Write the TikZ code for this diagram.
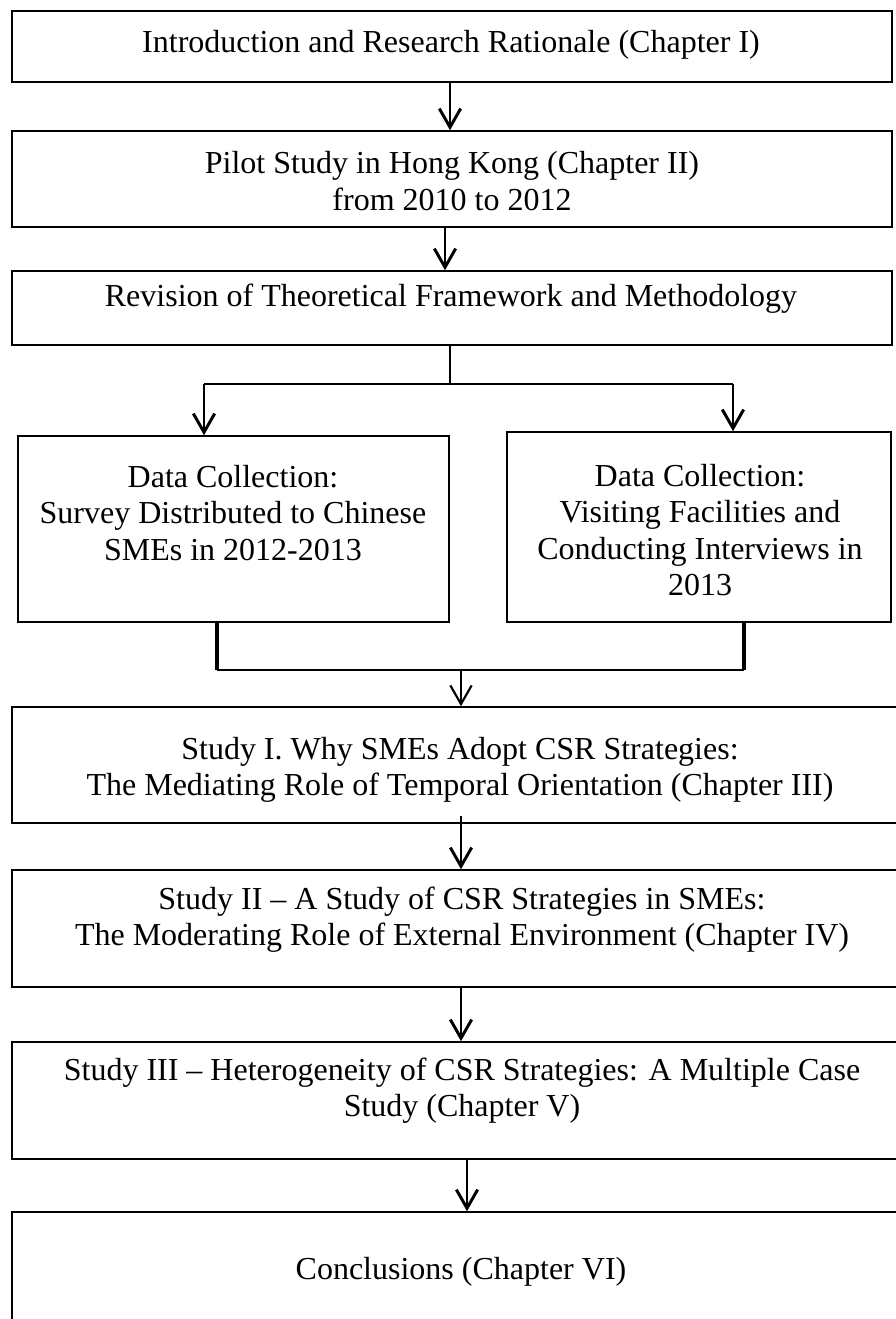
\documentclass[tikz,border=0pt]{standalone}
\usepackage{fontspec}
\setmainfont{Liberation Serif}
\usetikzlibrary{arrows.meta}
\newdimen\px \px=0.375pt
\begin{document}
\begin{tikzpicture}[x=\px,y=-\px,
    box/.style={draw,line width=0.6pt,inner sep=0pt},
    txt/.style={align=center,font=\fontsize{12}{13.6}\selectfont,inner sep=0pt},
    arr/.style={line width=1.1pt,-{Straight Barb[length=7pt,width=8pt,line width=1.1pt]}},
    thinarr/.style={line width=0.6pt,-{Straight Barb[length=7pt,width=8pt,line width=0.8pt]}}]
  \useasboundingbox (0,0) rectangle (896,1319);
  % boxes
  \node[box,minimum width=880\px,minimum height=71\px] (intro) at (452,46.5) {};
  \node[box,minimum width=880\px,minimum height=96\px] (pilot) at (452,179) {};
  \node[box,minimum width=880\px,minimum height=74\px] (revision) at (452,308) {};
  \node[box,minimum width=431\px,minimum height=186\px] (survey) at (233.5,529) {};
  \node[box,minimum width=384\px,minimum height=190\px] (visit) at (699,527) {};
  \node[box,minimum width=898\px,minimum height=116\px] (study1) at (461,765) {};
  \node[box,minimum width=898\px,minimum height=117\px] (study2) at (461,928.5) {};
  \node[box,minimum width=898\px,minimum height=117\px] (study3) at (461,1100.5) {};
  \node[box,minimum width=898\px,minimum height=120\px] (concl) at (461,1272) {};
  % texts
  \node[txt] (introtxt) at (451,45) {Introduction and Research Rationale (Chapter I)};
  \node[txt] (pilottxt) at (452,181) {Pilot Study in Hong Kong (Chapter II)\\ from 2010 to 2012};
  \node[txt] (revisiontxt) at (451,299) {Revision of Theoretical Framework and Methodology};
  \node[txt] (surveytxt) at (233,513) {Data Collection:\\ Survey Distributed to Chinese\\ SMEs in 2012-2013};
  \node[txt] (visittxt) at (700,530) {Data Collection:\\ Visiting Facilities and\\ Conducting Interviews in\\ 2013};
  \node[txt] (study1txt) at (460,770) {Study I. Why SMEs Adopt CSR Strategies:\\ The Mediating Role of Temporal Orientation (Chapter III)};
  \node[txt] (study2txt) at (462,920) {Study II -- A Study of CSR Strategies in SMEs:\\ The Moderating Role of External Environment (Chapter IV)};
  \node[txt] (study3txt) at (462,1091) {Study III -- Heterogeneity of CSR Strategies: A Multiple Case\\ Study (Chapter V)};
  \node[txt] (concltxt) at (461,1272) {Conclusions (Chapter VI)};
  % fork and join points
  \coordinate (fork) at (450,384);
  \coordinate (forkl) at (204,384);
  \coordinate (forkr) at (733,384);
  \coordinate (joinl) at (217,670);
  \coordinate (joinr) at (744,670);
  \coordinate (join) at (461,670);
  % connectors
  \draw[arr] ([xshift=-2\px]intro.south) -- ([xshift=-2\px]pilot.north);
  \draw[arr] ([xshift=-7\px]pilot.south) -- ([xshift=-7\px]revision.north);
  \draw[line width=0.6pt] ([xshift=-2\px]revision.south) -- (fork);
  \draw[line width=1.1pt] (forkl) -- (forkr);
  \draw[arr] (forkl) -- (forkl |- survey.north);
  \draw[arr] (forkr) -- (forkr |- visit.north);
  \draw[line width=1.3pt] (joinl |- survey.south) -- (joinl);
  \draw[line width=1.3pt] (joinr |- visit.south) -- (joinr);
  \draw[line width=0.9pt] (joinl) -- (joinr);
  \draw[thinarr] (join) -- (study1.north);
  \draw[arr] ([yshift=8\px]study1.south) -- (study2.north);
  \draw[arr] (study2.south) -- (study3.north);
  \draw[arr] ([xshift=6\px]study3.south) -- ([xshift=6\px]concl.north);
\end{tikzpicture}
\end{document}
